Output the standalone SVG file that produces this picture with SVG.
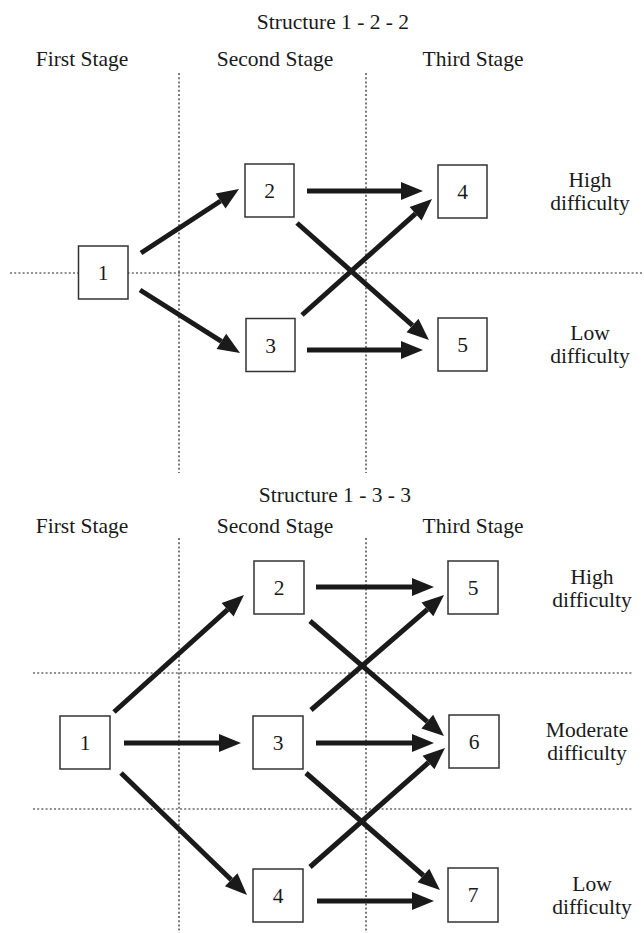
<svg xmlns="http://www.w3.org/2000/svg" width="644" height="933" viewBox="0 0 644 933">
<style>
text{font-family:"Liberation Serif","Times New Roman",serif;font-size:21.5px;fill:#1a1a1a;text-anchor:middle}
.grid{stroke:#222;stroke-width:1.2;stroke-dasharray:2 2.2;fill:none}
.box rect{fill:#fff;stroke:#333;stroke-width:1.5}
.arr{stroke:#1a1a1a;stroke-width:5;fill:none;marker-end:url(#ah)}
</style>
<defs>
<marker id="ah" viewBox="0 -9 22 18" refX="0" refY="0" markerWidth="22" markerHeight="18" markerUnits="userSpaceOnUse" orient="auto" overflow="visible">
<path d="M0,-9 L22,0 L0,9 Z" fill="#1a1a1a"/>
</marker>
</defs>
<rect width="644" height="933" fill="#fff"/>

<g id="grid">
<line class="grid" x1="179" y1="73" x2="179" y2="473"/>
<line class="grid" x1="366" y1="73" x2="366" y2="473"/>
<line class="grid" x1="10" y1="273" x2="644" y2="273"/>
<line class="grid" x1="179" y1="538" x2="179" y2="933"/>
<line class="grid" x1="366" y1="538" x2="366" y2="933"/>
<line class="grid" x1="33" y1="673" x2="632" y2="673"/>
<line class="grid" x1="33" y1="809" x2="632" y2="809"/>
</g>

<g id="labels">
<text x="333" y="29">Structure 1 - 2 - 2</text>
<text x="82" y="66">First Stage</text>
<text x="275" y="66">Second Stage</text>
<text x="473" y="66">Third Stage</text>
<text x="590" y="187">High</text>
<text x="590" y="210">difficulty</text>
<text x="590" y="340">Low</text>
<text x="590" y="363">difficulty</text>

<text x="335" y="502">Structure 1 - 3 - 3</text>
<text x="82" y="533">First Stage</text>
<text x="275" y="533">Second Stage</text>
<text x="473" y="533">Third Stage</text>
<text x="592" y="584">High</text>
<text x="592" y="607">difficulty</text>
<text x="587" y="737">Moderate</text>
<text x="587" y="760">difficulty</text>
<text x="592" y="891">Low</text>
<text x="592" y="914">difficulty</text>
</g>

<g id="connectors">
<line class="arr" x1="141" y1="253" x2="220.6" y2="201"/>
<line class="arr" x1="140" y1="290" x2="221.4" y2="341.3"/>
<line class="arr" x1="307" y1="191" x2="401" y2="191"/>
<line class="arr" x1="307" y1="350" x2="401" y2="350"/>
<line class="arr" x1="297" y1="223" x2="412.5" y2="325.4"/>
<line class="arr" x1="302" y1="315" x2="415.6" y2="213.7"/>

<line class="arr" x1="114" y1="712" x2="227.6" y2="609.7"/>
<line class="arr" x1="124" y1="743" x2="219" y2="743"/>
<line class="arr" x1="121" y1="773" x2="231.2" y2="879.7"/>
<line class="arr" x1="316" y1="587" x2="412" y2="587"/>
<line class="arr" x1="316" y1="743" x2="412" y2="743"/>
<line class="arr" x1="317" y1="901" x2="412" y2="901"/>
<line class="arr" x1="310" y1="621" x2="427.3" y2="721.7"/>
<line class="arr" x1="311" y1="710" x2="427.4" y2="609.4"/>
<line class="arr" x1="306" y1="773" x2="423.4" y2="875.5"/>
<line class="arr" x1="310" y1="867" x2="428.5" y2="762.5"/>
</g>

<g id="top-n1" class="box"><rect x="78.5" y="246" width="49.5" height="53"/><text x="103" y="280">1</text></g>
<g id="top-n2" class="box"><rect x="245" y="164" width="49" height="53"/><text x="269.5" y="198">2</text></g>
<g id="top-n3" class="box"><rect x="246" y="318.5" width="49" height="53"/><text x="270.5" y="352.5">3</text></g>
<g id="top-n4" class="box"><rect x="438" y="165" width="49" height="53"/><text x="462.5" y="199">4</text></g>
<g id="top-n5" class="box"><rect x="438" y="318" width="49" height="53"/><text x="462.5" y="352">5</text></g>

<g id="bot-n1" class="box"><rect x="60" y="716" width="50" height="53"/><text x="85" y="750">1</text></g>
<g id="bot-n2" class="box"><rect x="254" y="561" width="50" height="53"/><text x="279" y="595">2</text></g>
<g id="bot-n3" class="box"><rect x="253" y="716" width="50" height="53"/><text x="278" y="750">3</text></g>
<g id="bot-n4" class="box"><rect x="253" y="869" width="50" height="53"/><text x="278" y="903">4</text></g>
<g id="bot-n5" class="box"><rect x="448" y="561" width="50" height="53"/><text x="473" y="595">5</text></g>
<g id="bot-n6" class="box"><rect x="449" y="715" width="50" height="53"/><text x="474" y="749">6</text></g>
<g id="bot-n7" class="box"><rect x="448" y="868" width="50" height="54"/><text x="473" y="902">7</text></g>
</svg>
